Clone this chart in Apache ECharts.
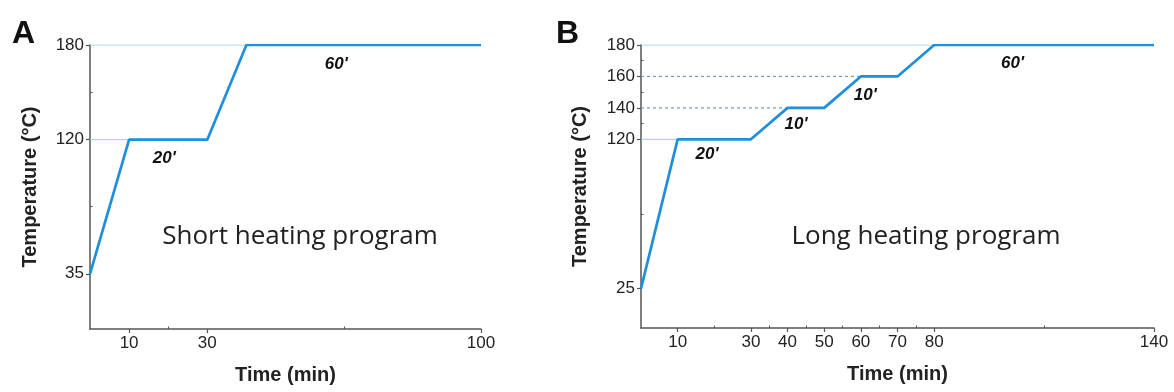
<!DOCTYPE html>
<html><head><meta charset="utf-8">
<script src="https://cdn.jsdelivr.net/npm/echarts@6/dist/echarts.min.js"></script>
<style>html,body{margin:0;padding:0;background:#fff}#c{width:1174px;height:392px}</style>
</head><body><div id="c"></div>
<script>
// ---- data ----
const timeA = [0, 10, 30, 40, 100];
const tempA = [35, 120, 120, 180, 180];
const timeB = [0, 10, 30, 40, 50, 60, 70, 80, 140];
const tempB = [25, 120, 120, 140, 140, 160, 160, 180, 180];

const xTicksA = [10, 30, 100];
const xMinorA = [20, 65];
const yTicksA = [35, 120, 180];
const yMinorA = [77.5, 150];
const xTicksB = [10, 30, 40, 50, 60, 70, 80, 140];
const xMinorB = [20, 35, 45, 55, 65, 75, 110];
const yTicksB = [25, 120, 140, 160, 180];
const yMinorB = [72.5, 130, 150, 170];

// guide lines: level and end time
const guideSolidA = { level: [120, 180], end: [10, 40] };
const guideSolidB = { level: [120, 180], end: [10, 80] };
const guideDashB = { level: [140, 160], end: [40, 60] };

// hold-time annotations
const holdLabelsA = ["20'", "60'"];
const holdXA = [19, 63];
const holdYA = [108, 167.5];
const holdLabelsB = ["20'", "10'", "10'", "60'"];
const holdXB = [18, 42.3, 61.2, 101.4];
const holdYB = [110.3, 129.3, 148.3, 168.6];

const programA = 'Short heating program';
const programB = 'Long heating program';

// ---- styling ----
const LINE = '#1f8fdc';
const GUIDE = '#8fd0e8';
const DASH = '#6f9fb8';
const AX = '#555';
const TXT = '#222';
const FONT = 'Liberation Sans, Arial, sans-serif';

function zip(x, y) { return x.map((v, i) => [v, y[i]]); }

function axisPair(gridIndex, min, max, ticks, minor, name, nameGap) {
  const main = {
    type: 'value', gridIndex, min, max,
    name, nameLocation: 'middle', nameGap,
    nameTextStyle: { fontFamily: FONT, fontWeight: 'bold', fontSize: 20, color: TXT },
    axisLine: { show: true, lineStyle: { color: AX, width: 1.5 } },
    axisTick: { show: true, inside: false, length: 4, customValues: ticks, lineStyle: { color: AX, width: 1.2 } },
    axisLabel: { show: true, customValues: ticks, margin: 6, fontFamily: FONT, fontSize: 17, color: TXT },
    splitLine: { show: false }
  };
  const minorAx = {
    type: 'value', gridIndex, min, max,
    axisLine: { show: false },
    axisTick: { show: true, inside: false, length: 2.5, customValues: minor, lineStyle: { color: AX, width: 1 } },
    axisLabel: { show: false },
    splitLine: { show: false }
  };
  return [main, minorAx];
}

const xA = axisPair(0, 0, 100, xTicksA, xMinorA, 'Time (min)', 36);
const yA = axisPair(0, 0, 180, yTicksA, yMinorA, 'Temperature (°C)', 50);
const xB = axisPair(1, 0, 140, xTicksB, xMinorB, 'Time (min)', 36);
const yB = axisPair(1, 0, 180, yTicksB, yMinorB, 'Temperature (°C)', 51);

const xAxis = [xA[0], xA[1], xB[0], xB[1]];
const yAxis = [yA[0], yA[1], yB[0], yB[1]];

function guides(g, xi, yi, dashed) {
  return g.level.map((lv, i) => ({
    type: 'line', xAxisIndex: xi, yAxisIndex: yi, symbol: 'none', silent: true,
    data: [[0, lv], [g.end[i], lv]],
    lineStyle: dashed ? { color: DASH, width: 1.2, type: [3, 3] } : { color: GUIDE, width: 1 },
    z: 1
  }));
}

function holdSeries(labels, xs, ys, xi, yi) {
  return {
    type: 'scatter', xAxisIndex: xi, yAxisIndex: yi, symbolSize: 0, silent: true,
    data: xs.map((x, i) => ({ value: [x, ys[i]], name: labels[i] })),
    itemStyle: { color: '#111', opacity: 1 },
    label: { show: true, position: 'inside', formatter: p => p.name,
      fontFamily: FONT, fontStyle: 'italic', fontWeight: 'bold', fontSize: 17,
      color: '#111', textBorderWidth: 0, opacity: 1 },
    z: 5
  };
}

const chart = echarts.init(document.getElementById('c'), null, { renderer: 'canvas' });
chart.setOption({
  animation: false,
  backgroundColor: '#fff',
  grid: [
    { left: 90, top: 45, width: 391, height: 284 },
    { left: 641, top: 45, width: 513, height: 283 }
  ],
  xAxis, yAxis,
  graphic: [
    { type: 'text', left: 12, top: 18, style: { text: 'A', font: 'bold 32px ' + FONT, fill: '#111' } },
    { type: 'text', left: 556, top: 18, style: { text: 'B', font: 'bold 32px ' + FONT, fill: '#111' } },
    { type: 'text', x: 300, y: 237, style: { text: programA, font: '26px Open Sans, sans-serif', fill: TXT, align: 'center', verticalAlign: 'middle' } },
    { type: 'text', x: 926, y: 237, style: { text: programB, font: '26px Open Sans, sans-serif', fill: TXT, align: 'center', verticalAlign: 'middle' } }
  ],
  series: [
    ...guides(guideSolidA, 0, 0, false),
    ...guides(guideSolidB, 2, 2, false),
    ...guides(guideDashB, 2, 2, true),
    { type: 'line', xAxisIndex: 0, yAxisIndex: 0, symbol: 'none', data: zip(timeA, tempA),
      lineStyle: { color: LINE, width: 2.7 }, z: 3 },
    { type: 'line', xAxisIndex: 2, yAxisIndex: 2, symbol: 'none', data: zip(timeB, tempB),
      lineStyle: { color: LINE, width: 2.7 }, z: 3 },
    holdSeries(holdLabelsA, holdXA, holdYA, 0, 0),
    holdSeries(holdLabelsB, holdXB, holdYB, 2, 2)
  ]
});
</script></body></html>
